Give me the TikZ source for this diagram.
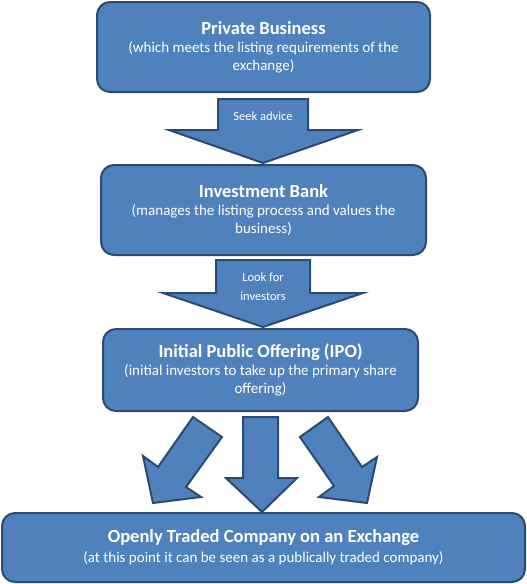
\documentclass[tikz,border=0pt]{standalone}
\usepackage{fontspec}
\setmainfont{Carlito}
\definecolor{boxfill}{RGB}{79,129,189}
\definecolor{boxline}{RGB}{44,74,112}
\tikzset{
  blockbox/.style={draw=boxline, fill=boxfill, line width=2pt, rounded corners=13pt,
    text=white, align=center, inner sep=0pt, font=\fontsize{15}{18}\selectfont},
  blockarrow/.style={draw=boxline, fill=boxfill, line width=2pt, line join=miter},
  arrowlabel/.style={text=white, align=center, font=\fontsize{12.5}{19}\selectfont, inner sep=0pt},
}
\newcommand{\ttl}[1]{{\bfseries\fontsize{18.5}{18}\selectfont #1}}
\begin{document}
\begin{tikzpicture}[x=1pt,y=-1pt]
\useasboundingbox (0,0) rectangle (527,584);
% boxes
\node[blockbox, minimum width=333pt, minimum height=90pt] (b1) at (263.5,47)
  {\ttl{Private Business}\\ (which meets the listing requirements of the\\ exchange)};
\node[blockbox, minimum width=325pt, minimum height=90pt] (b2) at (263.5,210)
  {\ttl{Investment Bank}\\ (manages the listing process and values the\\ business)};
\node[blockbox, minimum width=315pt, minimum height=82pt] (b3) at (260.5,370)
  {\ttl{Initial Public Offering (IPO)}\\ (initial investors to take up the primary share\\ offering)};
\node[blockbox, minimum width=523pt, minimum height=69pt, font=\fontsize{15}{20}\selectfont] (b4) at (263.5,547.5)
  {\ttl{Openly Traded Company on an Exchange}\\ (at this point it can be seen as a publically traded company)};
% block arrows
\draw[blockarrow] (218,99) -- (308,99) -- (308,130) -- (358,130) -- (263,163) -- (169,130) -- (218,130) -- cycle;
\draw[blockarrow] (216,260) -- (310,260) -- (310,293) -- (363,293) -- (263,327) -- (163,293) -- (216,293) -- cycle;
\draw[blockarrow] (243,417) -- (278,417) -- (278,478) -- (297,478) -- (262,512) -- (226,478) -- (243,478) -- cycle;
\draw[blockarrow] (193,417) -- (222,437) -- (186,487) -- (201,497) -- (153,503) -- (143,456) -- (158,467) -- cycle;
\draw[blockarrow] (328,417) -- (300,437) -- (334,486) -- (319,497) -- (367,503) -- (377,457) -- (362,467) -- cycle;
% arrow labels
\node[arrowlabel] (l1) at (263,116) {Seek advice};
\node[arrowlabel] (l2) at (263,286.5) {Look for\\investors};
\end{tikzpicture}
\end{document}
